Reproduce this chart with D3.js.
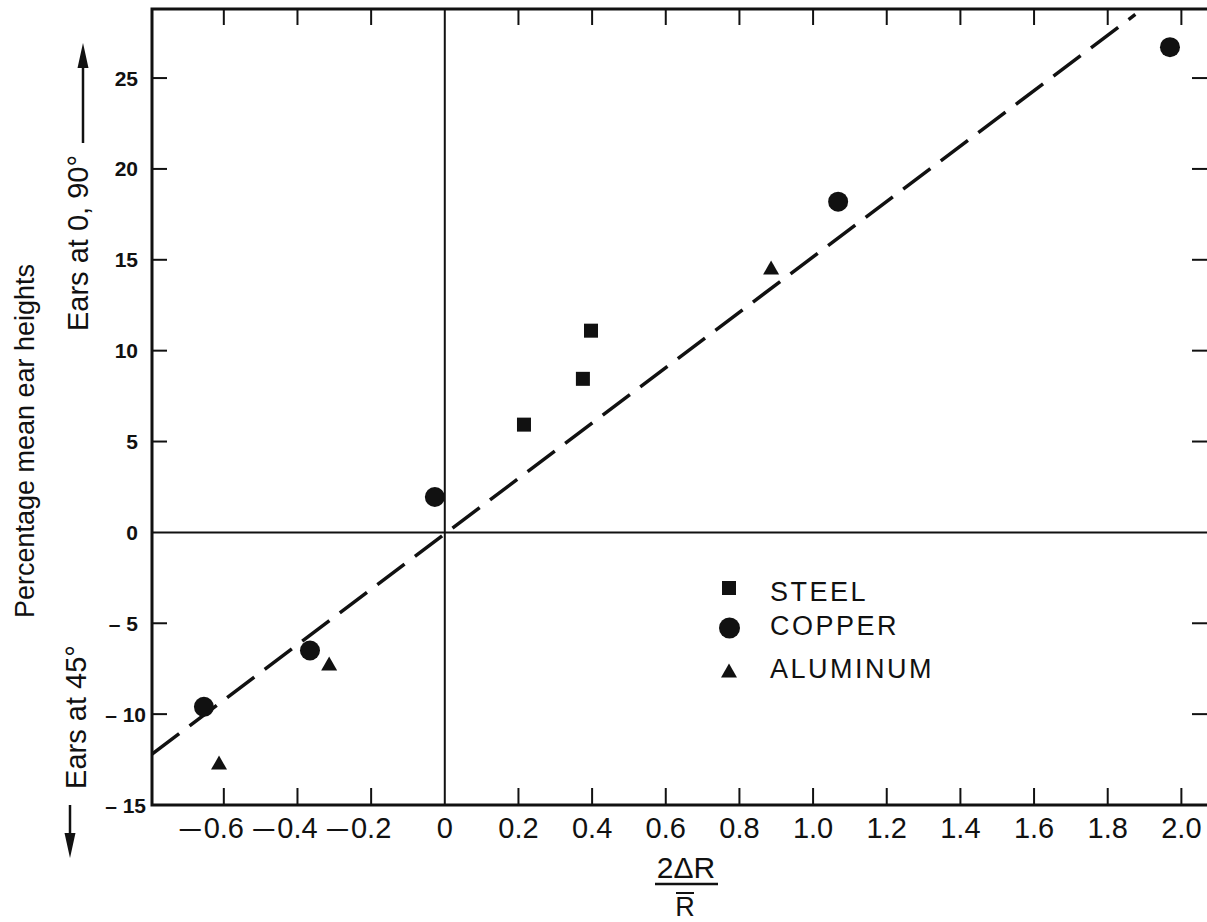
<!DOCTYPE html>
<html>
<head>
<meta charset="utf-8">
<script src="https://cdn.jsdelivr.net/npm/d3@7"></script>
<style>
  body { margin: 0; background: #fff; }
  text { font-family: "Liberation Sans", Arial, sans-serif; fill: #111; }
</style>
</head>
<body>
<div id="chart"></div>
<script>
var xTicks = [-0.6, -0.4, -0.2, 0, 0.2, 0.4, 0.6, 0.8, 1.0, 1.2, 1.4, 1.6, 1.8, 2.0];
var yTicks = [-15, -10, -5, 0, 5, 10, 15, 20, 25];
var yTickLabels = ["\u2013 15", "\u2013 10", "\u2013 5", "0", "5", "10", "15", "20", "25"];

var series = ["STEEL", "COPPER", "ALUMINUM"];
var steelX = [0.215, 0.375, 0.397];
var steelY = [5.93, 8.45, 11.1];
var copperX = [-0.654, -0.366, -0.027, 1.068, 1.969];
var copperY = [-9.6, -6.5, 1.95, 18.2, 26.7];
var aluminumX = [-0.613, -0.314, 0.886];
var aluminumY = [-12.75, -7.3, 14.5];
var fitX = [-0.795, 1.875];
var fitY = [-12.2, 28.5];

var w = 1207, h = 922,
    pl = 152, pr = 1209, pt = 9, pb = 805;

var x = d3.scaleLinear().domain([-0.795, 2.075]).range([pl, pr]),
    y = d3.scaleLinear().domain([-15, 28.8]).range([pb, pt]);

var svg = d3.select("#chart").append("svg")
    .attr("width", w)
    .attr("height", h);

var ink = "#111";

// frame
svg.append("rect")
    .attr("x", pl).attr("y", pt)
    .attr("width", pr - pl).attr("height", pb - pt)
    .attr("fill", "none").attr("stroke", ink).attr("stroke-width", 3);

// zero lines
svg.append("line")
    .attr("x1", x(0)).attr("x2", x(0)).attr("y1", pt).attr("y2", pb)
    .attr("stroke", ink).attr("stroke-width", 2);
svg.append("line")
    .attr("x1", pl).attr("x2", pr).attr("y1", y(0)).attr("y2", y(0))
    .attr("stroke", ink).attr("stroke-width", 2);

// x ticks, bottom and top, pointing inwards
svg.selectAll("line.xb")
    .data(xTicks.filter(function(d) { return d !== 0; }))
  .enter().append("line")
    .attr("class", "xb")
    .attr("x1", function(d) { return x(d); }).attr("x2", function(d) { return x(d); })
    .attr("y1", pb).attr("y2", pb - 17)
    .attr("stroke", ink).attr("stroke-width", 2);
svg.selectAll("line.xt")
    .data(xTicks.filter(function(d) { return d !== 0; }))
  .enter().append("line")
    .attr("class", "xt")
    .attr("x1", function(d) { return x(d); }).attr("x2", function(d) { return x(d); })
    .attr("y1", pt).attr("y2", pt + 16)
    .attr("stroke", ink).attr("stroke-width", 2);

// y ticks, left and right
svg.selectAll("line.yl")
    .data(yTicks.filter(function(d) { return d !== 0 && d !== -15; }))
  .enter().append("line")
    .attr("class", "yl")
    .attr("x1", pl).attr("x2", pl + 15)
    .attr("y1", function(d) { return y(d); }).attr("y2", function(d) { return y(d); })
    .attr("stroke", ink).attr("stroke-width", 2);
svg.selectAll("line.yr")
    .data(yTicks.filter(function(d) { return d !== 0 && d !== -15; }))
  .enter().append("line")
    .attr("class", "yr")
    .attr("x1", pr - 17).attr("x2", pr)
    .attr("y1", function(d) { return y(d); }).attr("y2", function(d) { return y(d); })
    .attr("stroke", ink).attr("stroke-width", 2);

// x tick labels: digits centred on the tick, dash hanging to the left
var xl = svg.selectAll("g.xlab")
    .data(xTicks)
  .enter().append("g")
    .attr("class", "xlab")
    .attr("transform", function(d) { return "translate(" + x(d) + ",838)"; });
xl.append("text")
    .attr("text-anchor", "middle")
    .style("font-size", "29px")
    .text(function(d) { return d === 0 ? "0" : Math.abs(d).toFixed(1); })
    .each(function(d) {
      if (d < 0) {
        var half = this.getComputedTextLength() / 2;
        d3.select(this.parentNode).append("text")
            .attr("text-anchor", "end")
            .style("font-size", "29px")
            .attr("transform", "scale(1.3,1)")
            .attr("x", (-half - 3) / 1.3)
            .text("\u2013");
      }
    });

// y tick labels
svg.selectAll("text.ylab")
    .data(yTicks)
  .enter().append("text")
    .attr("class", "ylab")
    .attr("x", function(d) { return d <= -10 ? 146 : 138; })
    .attr("y", function(d) { return y(d) + 7.5; })
    .attr("text-anchor", "end")
    .style("font-size", "21px")
    .style("font-weight", "bold")
    .text(function(d, i) { return yTickLabels[i]; });

// fitted dashed line
var line = d3.line()
    .x(function(d) { return x(d[0]); })
    .y(function(d) { return y(d[1]); });
svg.append("path")
    .datum(d3.zip(fitX, fitY))
    .attr("d", line)
    .attr("fill", "none")
    .attr("stroke", ink)
    .attr("stroke-width", 3.5)
    .attr("stroke-dasharray", "34,13");

// markers
var tri = "M0,-8.5L8,5.5L-8,5.5Z";

svg.selectAll("rect.steel")
    .data(d3.zip(steelX, steelY))
  .enter().append("rect")
    .attr("class", "steel")
    .attr("x", function(d) { return x(d[0]) - 7; })
    .attr("y", function(d) { return y(d[1]) - 7; })
    .attr("width", 14).attr("height", 14)
    .attr("fill", ink);

svg.selectAll("circle.copper")
    .data(d3.zip(copperX, copperY))
  .enter().append("circle")
    .attr("class", "copper")
    .attr("cx", function(d) { return x(d[0]); })
    .attr("cy", function(d) { return y(d[1]); })
    .attr("r", 10)
    .attr("fill", ink);

svg.selectAll("path.alu")
    .data(d3.zip(aluminumX, aluminumY))
  .enter().append("path")
    .attr("class", "alu")
    .attr("d", tri)
    .attr("transform", function(d) { return "translate(" + x(d[0]) + "," + y(d[1]) + ")"; })
    .attr("fill", ink);

// legend
var legY = [588, 628, 672], legT = [601, 635, 678];
var leg = svg.selectAll("g.leg")
    .data(series)
  .enter().append("g")
    .attr("class", "leg");
leg.append("text")
    .attr("x", 770)
    .attr("y", function(d, i) { return legT[i]; })
    .style("font-size", "27px")
    .style("letter-spacing", "2.5px")
    .text(function(d) { return d; });
leg.filter(function(d, i) { return i === 0; }).append("rect")
    .attr("x", 722).attr("y", legY[0] - 7).attr("width", 14).attr("height", 14).attr("fill", ink);
leg.filter(function(d, i) { return i === 1; }).append("circle")
    .attr("cx", 729.5).attr("cy", legY[1]).attr("r", 10.5).attr("fill", ink);
leg.filter(function(d, i) { return i === 2; }).append("path")
    .attr("d", tri).attr("transform", "translate(729," + legY[2] + ")").attr("fill", ink);

// y axis titles
svg.append("text")
    .attr("transform", "translate(34,441)rotate(-90)")
    .attr("text-anchor", "middle")
    .style("font-size", "27px")
    .text("Percentage mean ear heights");
svg.append("text")
    .attr("transform", "translate(88,243)rotate(-90)")
    .attr("text-anchor", "middle")
    .style("font-size", "29px")
    .text("Ears at 0, 90\u00b0");
svg.append("text")
    .attr("transform", "translate(86,717)rotate(-90)")
    .attr("text-anchor", "middle")
    .style("font-size", "29px")
    .text("Ears at 45\u00b0");

// arrows
svg.append("line").attr("x1", 83).attr("x2", 83).attr("y1", 143).attr("y2", 64)
    .attr("stroke", ink).attr("stroke-width", 2.5);
svg.append("path").attr("d", "M83,43L77.5,68L88.5,68Z").attr("fill", ink);
svg.append("line").attr("x1", 70).attr("x2", 70).attr("y1", 805).attr("y2", 838)
    .attr("stroke", ink).attr("stroke-width", 2.5);
svg.append("path").attr("d", "M70,858L64.5,833L75.5,833Z").attr("fill", ink);

// x axis title as a fraction
svg.append("text")
    .attr("x", 686).attr("y", 878)
    .attr("text-anchor", "middle")
    .style("font-size", "30px")
    .text("2\u0394R");
svg.append("line").attr("x1", 655).attr("x2", 718).attr("y1", 884).attr("y2", 884)
    .attr("stroke", ink).attr("stroke-width", 2.5);
svg.append("text")
    .attr("x", 685).attr("y", 916)
    .attr("text-anchor", "middle")
    .style("font-size", "27px")
    .text("R");
svg.append("line").attr("x1", 676).attr("x2", 694).attr("y1", 893).attr("y2", 893)
    .attr("stroke", ink).attr("stroke-width", 2);
</script>
</body>
</html>
